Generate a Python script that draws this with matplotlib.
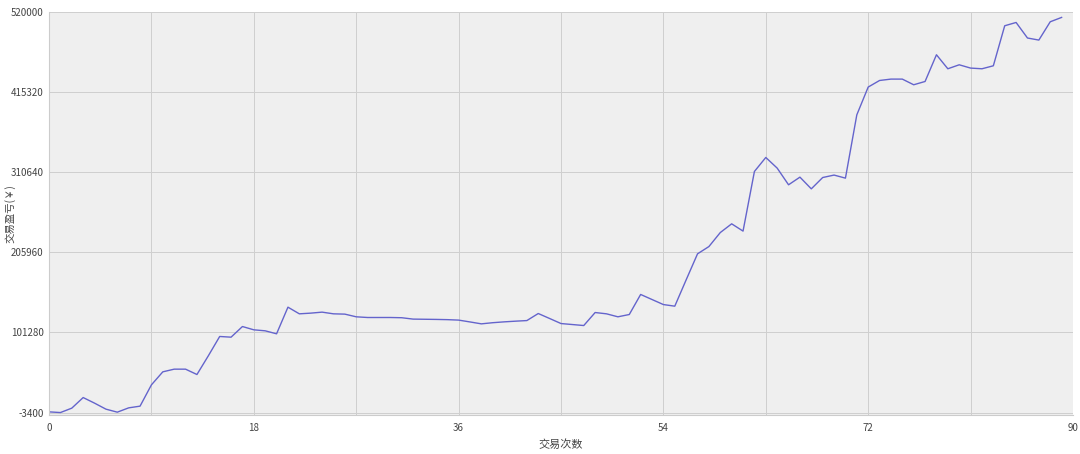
import numpy as np
import matplotlib
matplotlib.use("Agg")
import matplotlib.pyplot as plt

plt.rcParams['font.family'] = ['Noto Sans CJK SC', 'DejaVu Sans']

# 交易次数 0..89 与对应的累计盈亏
trade_index = list(range(90))
profit = [
    -2500, -3400, 2350, 16200, 8900, 1050, -2900, 2740, 4960, 32800,
    49800, 53300, 53300, 46300, 70700, 96000, 95100, 109000, 104700, 103400,
    99500, 134300, 125600, 126500, 127800, 125600, 125200, 121700, 120800, 120800,
    120800, 120500, 118700, 118500, 118300, 118000, 117400, 115000, 112500, 114000,
    115100, 116000, 116800, 126000, 119500, 112900, 111600, 110300, 127300, 125600,
    121700, 124700, 150900, 144300, 137700, 135600, 170000, 204000, 213500, 231800,
    243200, 233700, 311600, 329900, 316000, 294200, 304200, 288900, 303700, 306900,
    302900, 385600, 421900, 430500, 432300, 432300, 424900, 429200, 464100, 445800,
    451000, 446700, 445800, 449700, 502000, 506300, 486000, 483300, 507200, 512900,
]

y_ticks = [-3400, 101280, 205960, 310640, 415320, 520000]
x_ticks = [0, 18, 36, 54, 72, 90]
x_minor = [9, 27, 45, 63, 81]

fig = plt.figure(figsize=(10.8, 4.54), dpi=100)
ax = fig.add_axes([0.0454, 0.0859, 0.9481, 0.8877])
ax.set_facecolor('#efefef')

ax.plot(trade_index, profit, color='#6464cc', linewidth=1.0)

ax.set_xlim(0, 90)
ax.set_ylim(-6600, 520000)
ax.set_xticks(x_ticks)
ax.set_xticks(x_minor, minor=True)
ax.set_yticks(y_ticks)
ax.set_yticklabels([str(v) for v in y_ticks])

ax.grid(True, which='both', color='#cfcfcf', linewidth=0.7)
ax.set_axisbelow(True)
ax.tick_params(axis='both', which='both', length=0, labelsize=7, colors='#444444', pad=4)
ax.tick_params(axis='x', pad=6)

for side in ['top', 'right']:
    ax.spines[side].set_visible(False)
ax.spines['bottom'].set_color('#cccccc')
ax.spines['left'].set_color('#cccccc')

ax.set_xlabel('交易次数', fontsize=8, color='#444444', labelpad=4)
fig.text(0.004, 0.53, '交易盈亏(￥)', rotation=90, fontsize=7.5,
         color='#444444', ha='left', va='center')

fig.savefig('out.png', dpi=100)
